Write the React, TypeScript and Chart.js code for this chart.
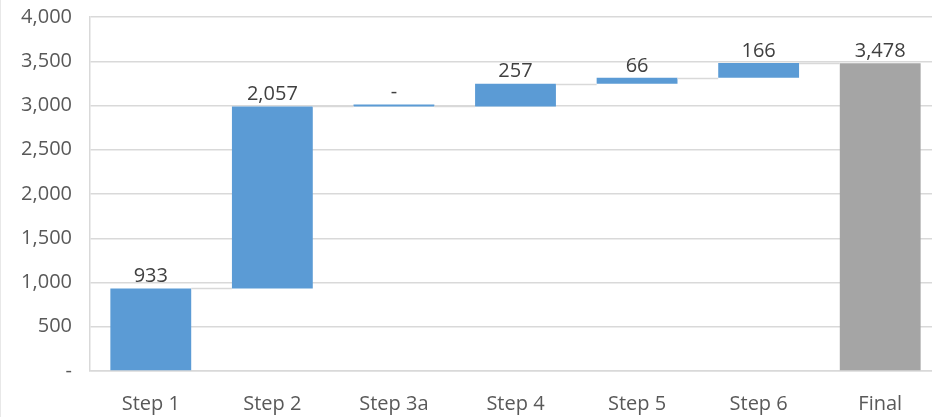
import React, { useEffect, useRef } from "react";
import { Chart, registerables } from "chart.js";

Chart.register(...registerables);

// Waterfall steps and the closing total
const categories = ["Step 1", "Step 2", "Step 3a", "Step 4", "Step 5", "Step 6", "Final"];
const stepChanges = [933, 2057, 0, 257, 66, 166];
const finalTotal = 3478;
const yTicks = [0, 500, 1000, 1500, 2000, 2500, 3000, 3500, 4000];

const BLUE = "#5b9bd5";
const GREY = "#a5a5a5";
const GRID = "#d9d9d9";
const TEXT = "#595959";
const FONT = "'Open Sans', 'Noto Sans', sans-serif";

const fmt = (v: number) => (v === 0 ? "-" : v.toLocaleString("en-US"));

export default function App() {
  const canvasRef = useRef<HTMLCanvasElement | null>(null);

  useEffect(() => {
    const canvas = canvasRef.current;
    if (!canvas) return;

    // floating ranges for each step, plus the total from zero
    const ranges: [number, number][] = [];
    const levels: number[] = [];
    let running = 0;
    stepChanges.forEach((d) => {
      ranges.push([running, running + d]);
      running += d;
      levels.push(running);
    });
    ranges.push([0, finalTotal]);
    const labelValues = [...stepChanges, finalTotal];

    const overlay = {
      id: "waterfallOverlay",
      afterDatasetsDraw(chart: any) {
        const ctx = chart.ctx;
        const meta = chart.getDatasetMeta(0);
        const y = chart.scales.y;
        ctx.save();
        // connector lines between consecutive bars
        ctx.strokeStyle = GRID;
        ctx.lineWidth = 1.5;
        for (let i = 0; i < meta.data.length - 1; i++) {
          const a = meta.data[i];
          const b = meta.data[i + 1];
          const py = Math.round(y.getPixelForValue(levels[i])) + 0.5;
          ctx.beginPath();
          ctx.moveTo(a.x + a.width / 2, py);
          ctx.lineTo(b.x - b.width / 2, py);
          ctx.stroke();
        }
        // value labels above each bar
        ctx.fillStyle = "#404040";
        ctx.font = `20px ${FONT}`;
        ctx.textAlign = "center";
        ctx.textBaseline = "bottom";
        meta.data.forEach((bar: any, i: number) => {
          const top = Math.min(bar.y, bar.base);
          ctx.fillText(fmt(labelValues[i]), bar.x, top - 2);
        });
        ctx.restore();
      },
    };

    const chart = new Chart(canvas, {
      type: "bar",
      data: {
        labels: categories,
        datasets: [
          {
            data: ranges as any,
            backgroundColor: categories.map((_, i) => (i === categories.length - 1 ? GREY : BLUE)),
            borderWidth: 0,
            minBarLength: 2,
            categoryPercentage: 1,
            barPercentage: 0.665,
          },
        ],
      },
      options: {
        animation: false,
        responsive: false,
        maintainAspectRatio: false,
        layout: { padding: { top: 17, right: 0, left: 0, bottom: 0 } },
        plugins: {
          legend: { display: false },
          tooltip: { enabled: false },
        },
        scales: {
          x: {
            grid: { display: false, drawTicks: false },
            border: { display: true, color: GRID, width: 1.5 },
            ticks: {
              color: TEXT,
              font: { family: FONT, size: 20 },
              padding: 21,
            },
            afterFit(scale: any) {
              scale.height = 46;
              scale.paddingLeft = 0;
              scale.paddingRight = 0;
            },
          },
          y: {
            min: 0,
            max: 4000,
            afterBuildTicks(scale: any) {
              scale.ticks = yTicks.map((v) => ({ value: v }));
            },
            grid: { color: GRID, lineWidth: 1.5, drawTicks: false },
            border: { display: true, color: GRID, width: 1.5 },
            ticks: {
              color: TEXT,
              font: { family: FONT, size: 20 },
              padding: 18,
              callback: (v: any) => fmt(Number(v)),
            },
            afterFit(scale: any) {
              scale.width = 90;
              scale.paddingTop = 0;
              scale.paddingBottom = 0;
            },
          },
        },
      },
      plugins: [overlay],
    });

    return () => chart.destroy();
  }, []);

  return (
    <div
      style={{
        position: "fixed",
        left: 0,
        top: 0,
        width: 932,
        height: 417,
        overflow: "hidden",
        background: "#ffffff",
        borderLeft: "1px solid #e8e8e8",
        boxSizing: "border-box",
      }}
    >
      <canvas
        ref={canvasRef}
        width={941}
        height={417}
        style={{ position: "absolute", left: -1, top: 0, width: 941, height: 417 }}
      />
    </div>
  );
}
